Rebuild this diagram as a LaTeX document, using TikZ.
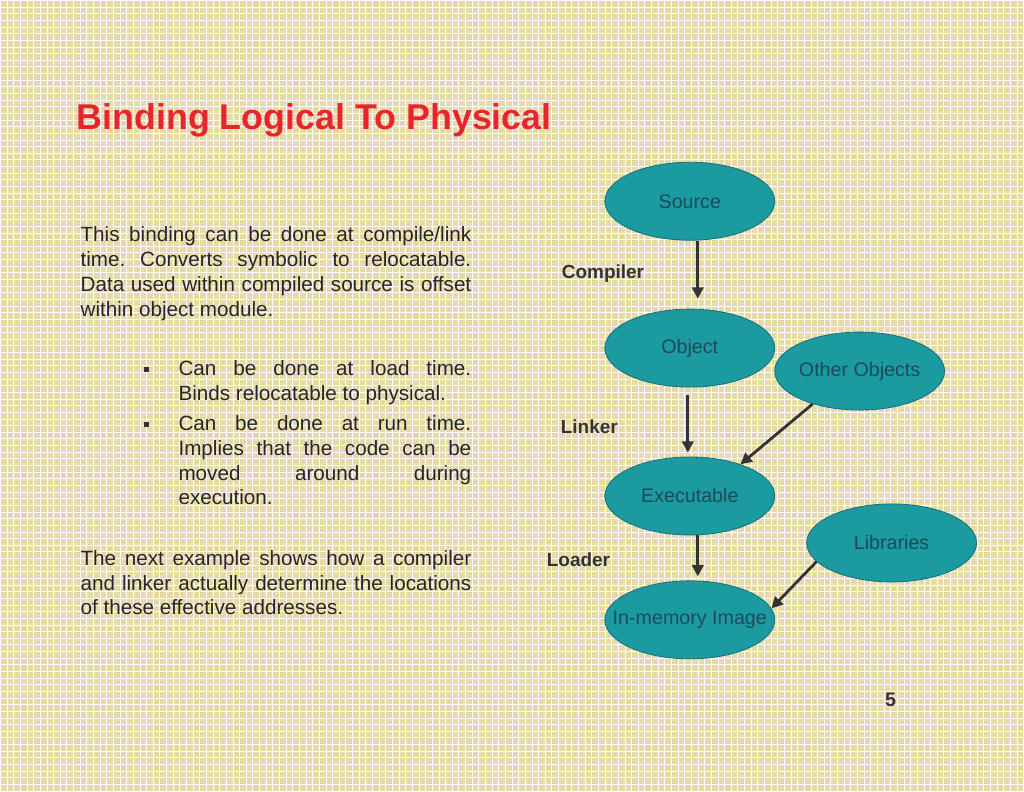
\documentclass[tikz,border=0pt]{standalone}
\usepackage{fontspec}
\setmainfont{Liberation Sans}
\usetikzlibrary{shapes.geometric,arrows.meta}
\definecolor{tan}{HTML}{E8D9A8}
\definecolor{teal}{HTML}{1B9AA0}
\definecolor{tealdark}{HTML}{17707A}
\definecolor{tealtext}{HTML}{1E4A5C}
\definecolor{titlered}{HTML}{E8242C}
\hyphenpenalty=10000
\frenchspacing
\begin{document}
\begin{tikzpicture}[x=0.025cm,y=-0.025cm]
\tikzset{
  stage/.style={ellipse,fill=teal,draw=tealdark,line width=0.6pt,
    minimum width=4.25cm,minimum height=1.95cm,inner xsep=-0.9cm,inner ysep=0pt,
    text=tealtext,font=\fontsize{14}{16}\selectfont},
  flow/.style={-{Triangle[length=8pt,width=8pt]},draw=black!80,line width=2pt},
  tool/.style={anchor=west,font=\bfseries\fontsize{13.5}{16}\selectfont,text=black!80},
  para/.style={anchor=north west,align=justify,inner sep=0pt,
    font=\fontsize{14.7}{17.7}\selectfont,text=black!85}
}
% background
\fill[tan] (0,0) rectangle (1024,791);
\foreach \k in {0,...,154} \draw[white,line width=0.6pt] (\k*6.65,0) -- (\k*6.65,791);
\foreach \k in {0,...,119} \draw[white,line width=0.6pt] (0,\k*6.65) -- (1024,\k*6.65);
\useasboundingbox (0,0) rectangle (1024,791);
% title
\node[anchor=west,inner sep=0pt,text=titlered,font=\bfseries\fontsize{25.5}{30}\selectfont]
  (title) at (76,120) {Binding Logical To Physical};
% text
\node[para,text width=391*0.025cm] (p1) at (80,226)
  {This binding can be done at compile/link time. Converts symbolic to relocatable. Data used within compiled source is offset within object module.};
\node[para,text width=293*0.025cm] (b1) at (178,360)
  {Can be done at load time.\linebreak Binds relocatable to physical.};
\node[para,text width=293*0.025cm] (b2) at (178,415)
  {Can be done at run time.\linebreak Implies that the code can be\linebreak moved around during\linebreak execution.};
\fill[black!80] (144,367) rectangle (149,372);
\fill[black!80] (144,422) rectangle (149,427);
\node[para,text width=391*0.025cm] (p2) at (80,550)
  {The next example shows how a compiler and linker actually determine the locations of these effective addresses.};
% diagram
\node[stage] (source) at (690,201) {Source};
\node[stage] (object) at (690,348) {Object};
\node[stage] (others) at (860,371) {Other Objects};
\node[stage] (exec) at (690,496) {Executable};
\node[stage] (libs) at (892,543) {Libraries};
\node[stage] (image) at (690,620) {In-memory Image};
\draw[flow] ([xshift=0.2cm]source.south) -- ([xshift=0.2cm,yshift=0.25cm]object.north);
\draw[flow] ([xshift=-0.05cm,yshift=-0.2cm]object.south) -- ([xshift=-0.05cm,yshift=0.1cm]exec.north);
\draw[flow] (others.-145) -- (exec.32);
\draw[flow] ([xshift=0.2cm]exec.south) -- ([xshift=0.2cm,yshift=0.1cm]image.north);
\draw[flow] (libs.-166) -- (image.8);
\node[tool] (compiler) at (557,273) {Compiler};
\node[tool] (linker) at (556,427) {Linker};
\node[tool] (loader) at (542,560) {Loader};
\node[font=\bfseries\fontsize{14}{16}\selectfont,text=black!80] (page) at (891,700) {5};
\end{tikzpicture}
\end{document}
